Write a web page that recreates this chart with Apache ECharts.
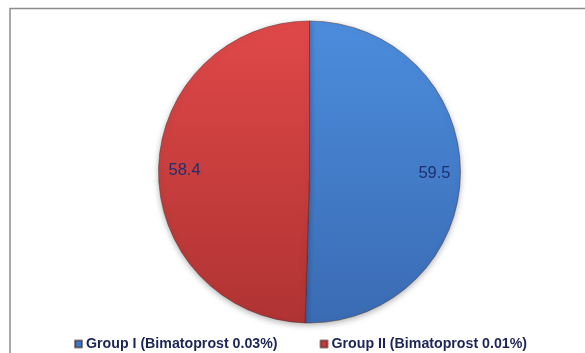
<!DOCTYPE html>
<html><head><meta charset="utf-8">
<script src="https://cdn.jsdelivr.net/npm/echarts@6/dist/echarts.min.js"></script>
<style>html,body{margin:0;padding:0;background:#fff}#c{width:585px;height:353px}</style>
</head><body><div id="c"></div>
<script>
const categories = ['Group I (Bimatoprost 0.03%)', 'Group II (Bimatoprost 0.01%)'];
const values = [59.5, 58.4];

const colors = [
  {type:'linear',x:0,y:0,x2:0,y2:1,colorStops:[{offset:0,color:'#4C8DDD'},{offset:1,color:'#3A6BB3'}]},
  {type:'linear',x:0,y:0,x2:0,y2:1,colorStops:[{offset:0,color:'#E04848'},{offset:1,color:'#B03333'}]}
];
const legendColors = ['#3E77C4','#C43A3A'];

const chart = echarts.init(document.getElementById('c'), null, {renderer:'canvas'});
const CX = 309.5, CY = 172, R = 151;
chart.setOption({
  animation:false,
  graphic:[{type:'polyline',shape:{points:[[10,400],[10,8.5],[600,8.5]]},style:{stroke:'#8c8c8c',lineWidth:1.5,fill:null},silent:true}],
  legend:{
    left:69, top:332, itemWidth:7, itemHeight:7, itemGap:42, icon:'rect',
    textStyle:{fontFamily:'Liberation Sans, Arial', fontWeight:'bold', fontSize:14.2, color:'#1C2656', padding:[0,0,0,-1]},
    data: categories.map((n,i)=>({name:n, itemStyle:{color:legendColors[i]}}))
  },
  series:[{
    type:'pie', center:[CX,CY], radius:R, startAngle:90, clockwise:true,
    itemStyle:{borderColor:'rgba(70,30,30,0.55)', borderWidth:0.8, shadowBlur:6, shadowColor:'rgba(0,0,0,0.3)', shadowOffsetY:2},
    label:{show:true, position:'inside', formatter:'{c}', fontFamily:'Liberation Sans, Arial', fontSize:16.5, color:'#1F3070'},
    labelLayout:function(p){
      const lr = p.labelRect;
      const lx = lr.x + lr.width/2, ly = lr.y + lr.height/2;
      const d = Math.hypot(lx-CX, ly-CY);
      const k = 125/d - 1;
      return {dx:(lx-CX)*k, dy:(ly-CY)*k};
    },
    labelLine:{show:false},
    emphasis:{disabled:true},
    data: categories.map((n,i)=>({name:n, value:values[i], itemStyle:{color:colors[i]}}))
  }]
});
</script></body></html>
